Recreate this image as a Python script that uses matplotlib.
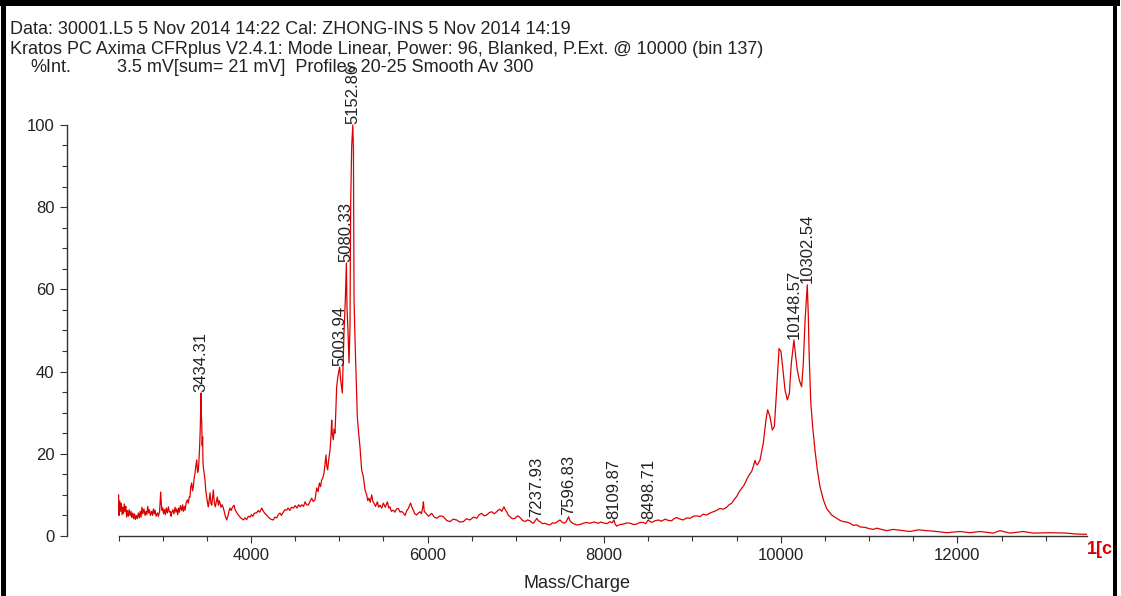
import matplotlib
matplotlib.use("Agg")
import matplotlib.pyplot as plt
from matplotlib.lines import Line2D
from matplotlib.ticker import FixedLocator, MultipleLocator

# spectrum: mass/charge and %intensity
mass = [
    2500, 2505, 2512, 2520, 2530, 2540, 2548, 2556, 2565, 2573, 2582, 2592, 2600, 2611, 2620,
    2630, 2640, 2649, 2660, 2670, 2680, 2690, 2700, 2712, 2724, 2735, 2745, 2755, 2765, 2775,
    2787, 2800, 2810, 2820, 2830, 2840, 2850, 2860, 2875, 2885, 2895, 2905, 2913, 2925, 2940,
    2951, 2965, 2977, 2985, 2993, 3000, 3010, 3020, 3030, 3040, 3052, 3064, 3075, 3087, 3095,
    3102, 3115, 3127, 3139, 3150, 3160, 3170, 3180, 3190, 3200, 3215, 3225, 3235, 3245, 3253,
    3265, 3279, 3290, 3300, 3309, 3318, 3328, 3338, 3347, 3356, 3366, 3375, 3385, 3395, 3404,
    3412, 3418, 3425, 3430, 3434, 3438, 3442, 3447, 3452, 3456, 3460, 3470, 3479, 3488, 3498,
    3508, 3517, 3527, 3536, 3545, 3555, 3563, 3573, 3585, 3596, 3608, 3619, 3630, 3640, 3649,
    3660, 3672, 3687, 3700, 3712, 3725, 3740, 3750, 3762, 3775, 3790, 3808, 3820, 3835, 3857,
    3875, 3895, 3913, 3930, 3950, 3970, 3989, 4005, 4020, 4040, 4064, 4080, 4100, 4121, 4140,
    4160, 4177, 4195, 4215, 4235, 4253, 4270, 4290, 4310, 4328, 4345, 4365, 4385, 4404, 4420,
    4440, 4460, 4480, 4500, 4520, 4540, 4555, 4575, 4595, 4612, 4630, 4649, 4668, 4687, 4705,
    4725, 4744, 4760, 4774, 4787, 4800, 4814, 4827, 4838, 4849, 4858, 4868, 4880, 4895, 4905,
    4914, 4920, 4932, 4940, 4951, 4960, 4970, 4985, 5004, 5015, 5034, 5053, 5068, 5080, 5087,
    5099, 5110, 5121, 5129, 5140, 5153, 5160, 5167, 5178, 5189, 5204, 5219, 5234, 5253, 5272,
    5291, 5310, 5322, 5336, 5350, 5367, 5380, 5393, 5410, 5431, 5445, 5461, 5480, 5499, 5520,
    5544, 5560, 5574, 5590, 5612, 5630, 5650, 5669, 5690, 5705, 5725, 5745, 5765, 5782, 5795,
    5808, 5822, 5838, 5855, 5876, 5895, 5914, 5930, 5945, 5952, 5962, 5982, 6010, 6046, 6075,
    6103, 6140, 6178, 6215, 6254, 6290, 6329, 6365, 6405, 6440, 6480, 6520, 6556, 6585, 6612,
    6640, 6669, 6700, 6726, 6755, 6782, 6800, 6820, 6840, 6865, 6880, 6895, 6915, 6933, 6960,
    6990, 7020, 7046, 7075, 7103, 7130, 7160, 7180, 7197, 7215, 7238, 7255, 7273, 7300, 7330,
    7360, 7386, 7415, 7443, 7470, 7499, 7520, 7545, 7570, 7597, 7610, 7620, 7650, 7688, 7725,
    7764, 7800, 7839, 7885, 7934, 7960, 7990, 8030, 8066, 8090, 8110, 8125, 8141, 8180, 8217,
    8255, 8292, 8330, 8368, 8405, 8443, 8470, 8499, 8520, 8538, 8575, 8613, 8650, 8689, 8725,
    8764, 8790, 8821, 8860, 8896, 8935, 8972, 9010, 9047, 9085, 9120, 9160, 9200, 9236, 9270,
    9311, 9350, 9387, 9415, 9444, 9470, 9500, 9530, 9557, 9585, 9613, 9640, 9670, 9690, 9708,
    9720, 9734, 9750, 9764, 9802, 9832, 9851, 9878, 9904, 9927, 9953, 9980, 10002, 10021, 10048,
    10074, 10097, 10119, 10149, 10165, 10187, 10210, 10236, 10255, 10275, 10300, 10312, 10322, 10340, 10361,
    10387, 10414, 10444, 10482, 10519, 10576, 10633, 10670, 10708, 10745, 10784, 10820, 10859, 10900, 10954,
    11000, 11048, 11086, 11199, 11274, 11388, 11463, 11558, 11652, 11765, 11878, 12029, 12143, 12256, 12407,
    12482, 12596, 12747, 12860, 13049, 13237, 13332, 13464,
]
intensity = [
    10.0, 5.0, 8.5, 6.0, 8.0, 5.2, 7.0, 5.5, 7.8, 6.0, 7.2, 4.6, 6.2, 4.8, 6.4,
    5.0, 6.0, 4.5, 5.6, 4.2, 5.4, 4.0, 5.0, 4.2, 5.6, 4.4, 6.0, 4.6, 7.0, 5.4,
    6.6, 5.0, 6.0, 5.2, 7.2, 5.6, 6.4, 5.0, 6.0, 5.0, 6.6, 5.4, 6.3, 4.8, 5.6,
    4.8, 6.0, 10.7, 7.5, 6.2, 6.8, 5.4, 6.4, 5.2, 6.8, 5.6, 7.1, 5.8, 6.0, 4.8,
    5.6, 6.4, 5.4, 7.0, 5.8, 6.6, 5.2, 6.8, 5.8, 7.4, 6.2, 7.6, 6.0, 7.2, 6.3,
    8.0, 8.8, 8.0, 9.5, 9.5, 12.0, 12.9, 11.0, 12.0, 14.0, 15.3, 17.0, 18.5, 15.5, 16.1,
    19.0, 21.7, 26.0, 31.0, 34.8, 29.0, 27.5, 22.0, 24.1, 18.0, 16.8, 15.0, 13.6, 11.0, 9.5,
    8.0, 7.1, 9.0, 10.5, 8.0, 7.5, 9.0, 11.2, 8.0, 7.1, 8.5, 9.5, 7.5, 8.6, 8.0,
    7.0, 7.6, 6.8, 5.6, 4.6, 3.9, 5.0, 6.0, 6.8, 6.2, 7.0, 7.5, 6.4, 5.8, 5.1,
    4.6, 4.2, 3.9, 4.4, 4.0, 4.8, 4.6, 5.2, 4.8, 5.6, 5.6, 6.2, 5.8, 6.8, 6.0,
    5.4, 5.1, 4.6, 4.2, 4.0, 3.9, 4.6, 4.4, 5.2, 5.6, 5.0, 5.8, 6.4, 6.3, 6.8,
    6.2, 7.0, 6.8, 7.4, 6.8, 7.6, 7.1, 7.6, 7.2, 8.3, 7.6, 7.5, 8.4, 9.2, 8.4,
    8.8, 11.7, 10.8, 12.9, 12.0, 13.6, 14.2, 15.3, 17.5, 19.7, 17.0, 16.1, 18.6, 20.9, 24.0,
    28.2, 25.0, 23.4, 26.0, 25.0, 30.0, 36.3, 39.0, 41.1, 38.0, 34.8, 49.4, 57.4, 66.4, 55.7,
    49.4, 42.1, 50.9, 81.0, 94.7, 100.0, 93.9, 57.4, 47.7, 39.7, 29.0, 25.1, 21.7, 16.1, 14.4,
    11.2, 10.0, 8.6, 9.2, 8.2, 10.0, 8.4, 8.0, 7.2, 8.3, 7.0, 7.5, 6.8, 8.0, 7.0,
    8.3, 6.8, 7.1, 6.0, 6.3, 5.8, 6.6, 6.7, 5.8, 6.0, 5.6, 5.0, 6.2, 6.7, 7.4,
    8.0, 7.0, 6.3, 5.4, 5.1, 5.6, 5.9, 5.4, 7.0, 8.3, 6.0, 5.5, 4.8, 5.5, 4.6,
    4.3, 4.9, 4.7, 3.8, 3.5, 4.1, 3.9, 3.4, 3.5, 4.2, 3.9, 4.6, 4.3, 5.2, 5.5,
    4.9, 5.1, 5.7, 5.9, 5.4, 5.9, 6.3, 6.5, 6.0, 7.1, 6.4, 5.9, 5.0, 4.7, 4.2,
    4.3, 4.9, 4.5, 3.8, 3.5, 3.9, 3.7, 3.3, 3.1, 3.6, 4.3, 3.7, 3.5, 3.0, 3.1,
    2.8, 2.7, 3.2, 3.1, 3.5, 3.9, 3.4, 3.1, 3.5, 4.7, 3.8, 3.5, 3.0, 2.7, 2.8,
    3.1, 3.3, 3.1, 3.4, 3.1, 3.4, 3.2, 3.0, 3.5, 3.2, 3.9, 2.9, 2.4, 2.8, 2.9,
    3.2, 3.1, 2.8, 2.9, 3.3, 3.3, 3.0, 3.9, 3.5, 3.3, 3.7, 3.9, 3.6, 4.1, 3.8,
    3.7, 4.2, 4.5, 4.1, 3.9, 4.4, 4.3, 4.8, 4.9, 4.7, 5.3, 5.1, 5.6, 5.9, 6.2,
    6.7, 6.5, 7.0, 7.6, 8.0, 8.8, 9.6, 10.8, 11.6, 12.4, 13.7, 14.8, 15.7, 17.0, 18.4,
    17.6, 17.3, 17.9, 18.4, 22.6, 28.2, 30.7, 29.0, 25.8, 26.6, 35.5, 45.6, 44.9, 41.2, 35.5,
    33.1, 34.7, 42.0, 47.7, 44.4, 40.4, 37.9, 36.3, 42.0, 52.5, 61.1, 53.4, 43.6, 32.3, 26.6,
    20.9, 16.1, 12.0, 8.8, 6.7, 5.1, 4.3, 3.8, 3.5, 3.4, 3.1, 2.6, 2.7, 2.2, 2.1,
    1.8, 1.6, 1.9, 1.3, 1.6, 1.3, 1.1, 1.5, 1.3, 1.1, 0.8, 1.1, 0.8, 1.1, 0.7,
    1.3, 0.7, 1.1, 0.7, 0.8, 0.7, 0.5, 0.4,
]

# labelled peaks
peak_labels = ["3434.31", "5003.94", "5080.33", "5152.86", "7237.93", "7596.83",
               "8109.87", "8498.71", "10148.57", "10302.54"]
peak_mass = [3434, 5004, 5080, 5153, 7238, 7597, 8110, 8499, 10149, 10300]
peak_int = [34.8, 41.1, 66.4, 100.0, 4.3, 4.7, 3.9, 3.9, 47.7, 61.1]

header = [
    "Data: 30001.L5 5 Nov 2014 14:22 Cal: ZHONG-INS 5 Nov 2014 14:19",
    "Kratos PC Axima CFRplus V2.4.1: Mode Linear, Power: 96, Blanked, P.Ext. @ 10000 (bin 137)",
]
info = "3.5 mV[sum= 21 mV]  Profiles 20-25 Smooth Av 300"

W, H = 1121, 596
plt.rcParams['font.family'] = ['Liberation Sans', 'DejaVu Sans']
txt = '#222222'
red = '#dd0000'

fig = plt.figure(figsize=(W / 100, H / 100), dpi=100)
ax = fig.add_axes([67 / W, (H - 536) / H, 1020 / W, 416 / H])

ax.plot(mass, intensity, color=red, lw=0.9)
ax.set_xlim(1916, 13468)
ax.set_ylim(0, 101.2)

for s in ['top', 'right']:
    ax.spines[s].set_visible(False)
ax.spines['left'].set_bounds(0, 100)
ax.spines['bottom'].set_bounds(2500, 13468)
for s in ['left', 'bottom']:
    ax.spines[s].set_color('#333333')
    ax.spines[s].set_linewidth(1.0)

ax.set_xticks([4000, 6000, 8000, 10000, 12000])
ax.xaxis.set_minor_locator(FixedLocator([v for v in range(2500, 13501, 500) if v % 2000]))
ax.yaxis.set_major_locator(MultipleLocator(20))
ax.yaxis.set_minor_locator(MultipleLocator(5))
ax.tick_params(which='major', length=5, width=0.8, color='#333333',
               labelsize=12, labelcolor=txt, pad=4)
ax.tick_params(which='minor', length=3.5, width=0.8, color='#333333')
ax.set_xlabel("Mass/Charge", fontsize=13, color=txt, labelpad=8)

for lab, m, v in zip(peak_labels, peak_mass, peak_int):
    ax.annotate(lab, (m, v), xytext=(0, 1), textcoords='offset points',
                rotation=90, ha='center', va='bottom', fontsize=12, color=txt)

# header text
fig.text(10 / W, 1 - 30 / H, header[0], fontsize=13, color=txt, va='center')
fig.text(10 / W, 1 - 49 / H, header[1], fontsize=13, color=txt, va='center')
fig.text(30 / W, 1 - 68 / H, "%Int.", fontsize=13, color=txt, va='center')
fig.text(117 / W, 1 - 68 / H, info, fontsize=13, color=txt, va='center')
fig.text(1087 / W, 1 - 550 / H, "1[c", fontsize=13, color=red, va='center',
         fontweight='bold')

# black frame round the picture
fig.add_artist(Line2D([2.5 / W, 2.5 / W], [0, 1], color='black', lw=5 * 0.72))
fig.add_artist(Line2D([0, 1117 / W], [1 - 3 / H, 1 - 3 / H], color='black', lw=6 * 0.72))
fig.add_artist(Line2D([1115 / W, 1115 / W], [0, 1], color='black', lw=4 * 0.72))

fig.savefig("out.png", dpi=100)
